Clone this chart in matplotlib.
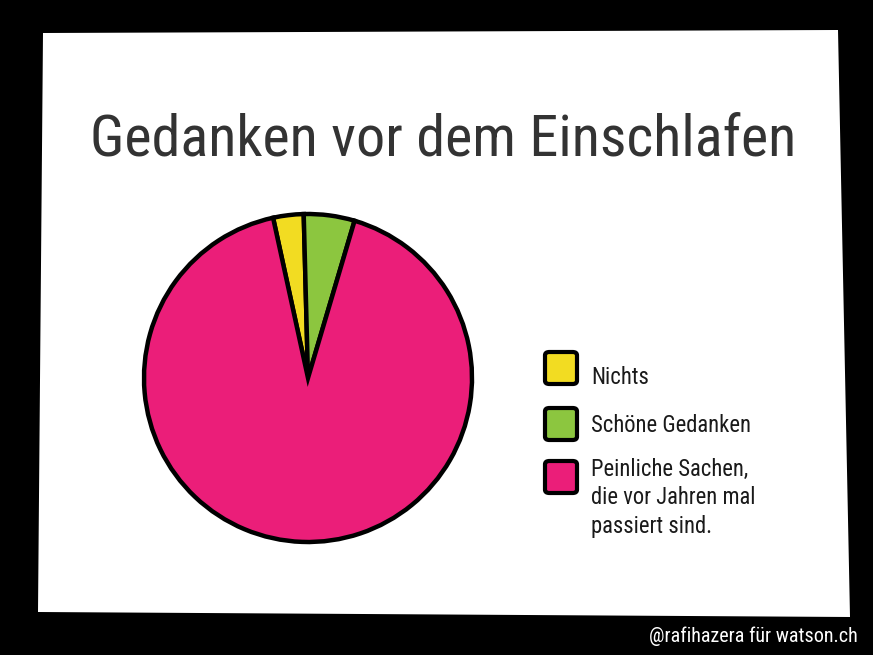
import matplotlib
matplotlib.use("Agg")
import matplotlib.pyplot as plt
from matplotlib import font_manager
from matplotlib.patches import Polygon, FancyBboxPatch

# data
labels = ["Nichts", "Schöne Gedanken", "Peinliche Sachen,\ndie vor Jahren mal\npassiert sind."]
values = [3, 5, 92]
colors = ["#F2DC22", "#8CC63F", "#EB1E79"]
title = "Gedanken vor dem Einschlafen"
credit = "@rafihazera für watson.ch"

# look for a condensed face (the original uses a Myriad-like condensed font)
files = [f.fname for f in font_manager.fontManager.ttflist]
pick = None
for key in ["opensans_condensed", "opensanscondensed", "opensans-condensed",
            "robotocondensed", "roboto_condensed", "liberationsansnarrow",
            "dejavusanscondensed"]:
    for fn in files:
        base = fn.lower().replace(" ", "").split("/")[-1]
        if key in base and "bold" not in base and "italic" not in base \
                and "oblique" not in base and "light" not in base:
            pick = fn
            break
    if pick:
        break
fp = font_manager.FontProperties(fname=pick) if pick else font_manager.FontProperties(family="DejaVu Sans")

W, H = 873, 655
fig = plt.figure(figsize=(W / 100, H / 100), dpi=100, facecolor="black")

# white card, slightly skewed
card = [(43, 33), (838, 30), (850, 617), (38, 612)]
fig.patches.append(Polygon([(x / W, 1 - y / H) for x, y in card], closed=True,
                           transform=fig.transFigure, facecolor="white",
                           edgecolor="none", zorder=-5))

renderer = fig.canvas.get_renderer()


def fit(t, width):
    size = t.get_fontsize()
    w = t.get_window_extent(renderer).width
    t.set_fontsize(size * width / w)


t = fig.text(90 / W, 1 - 155 / H, title, ha="left", va="baseline",
             fontproperties=fp, fontsize=50, color="#333333")
fit(t, 707)

# pie
cx, cy, r = 308, 378, 164
pad = 1.05
ax = fig.add_axes([(cx - r * pad) / W, 1 - (cy + r * pad) / H,
                   2 * r * pad / W, 2 * r * pad / H])
ax.pie(values, colors=colors, startangle=102.3, counterclock=False,
       wedgeprops=dict(edgecolor="black", linewidth=3.2))
ax.set_xlim(-pad, pad)
ax.set_ylim(-pad, pad)
ax.set_aspect("equal")
ax.axis("off")

# legend
box_y = [368, 424, 477]
text_y = [377, 425, 498]
leg_texts = []
for lab, col, by, ty in zip(labels, colors, box_y, text_y):
    bx, s = 545, 32
    fig.patches.append(FancyBboxPatch((bx / W, 1 - (by + s / 2) / H),
                                      s / W, s / H,
                                      boxstyle="round,pad=0,rounding_size=0.005",
                                      transform=fig.transFigure, facecolor=col,
                                      edgecolor="black", linewidth=3, zorder=2))
    lt = fig.text(591 / W, 1 - ty / H, lab, ha="left", va="center",
                  fontproperties=fp, fontsize=18, color="#1a1a1a", linespacing=1.3)
    leg_texts.append(lt)
fit(leg_texts[1], 160)
for lt in leg_texts:
    lt.set_fontsize(leg_texts[1].get_fontsize())

c = fig.text(858 / W, 1 - 636 / H, credit, ha="right", va="center",
             fontproperties=fp, fontsize=16, color="white")
fit(c, 210)

fig.savefig("out.png", dpi=100, facecolor="black")
